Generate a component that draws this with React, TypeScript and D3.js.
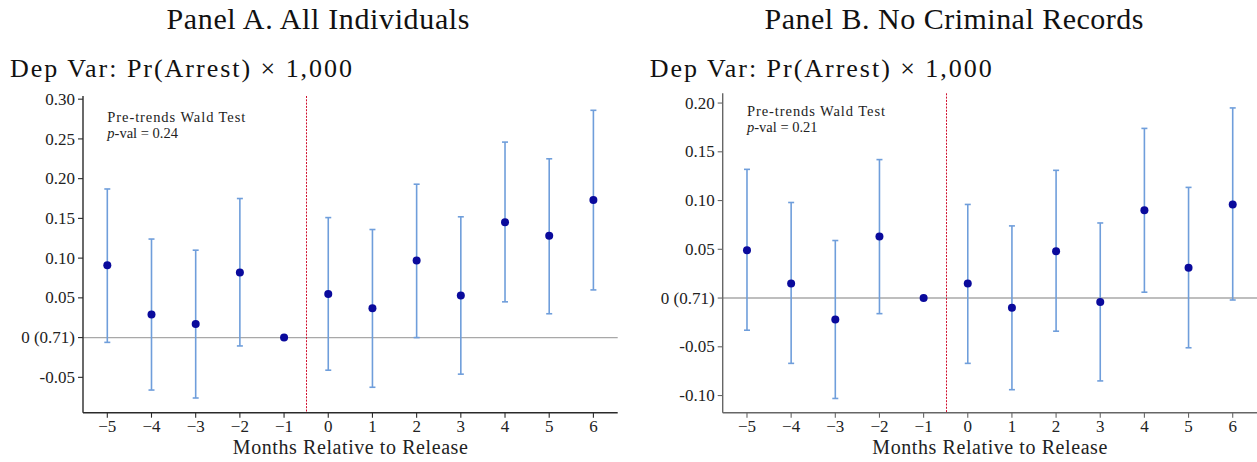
import React from "react";
import * as d3 from "d3";

// Event-study estimates, months relative to release (month -1 is the omitted base)
const months = [-5, -4, -3, -2, -1, 0, 1, 2, 3, 4, 5, 6];

// Panel A: all individuals
const allEst = [0.091, 0.029, 0.017, 0.082, 0, 0.055, 0.037, 0.097, 0.053, 0.145, 0.128, 0.173];
const allLo = [-0.006, -0.066, -0.076, -0.0105, null, -0.041, -0.0625, 0.0, -0.046, 0.045, 0.03, 0.06];
const allHi = [0.187, 0.124, 0.11, 0.175, null, 0.151, 0.136, 0.193, 0.152, 0.246, 0.225, 0.286];

// Panel B: no criminal records
const noRecEst = [0.049, 0.015, -0.022, 0.063, 0, 0.015, -0.01, 0.048, -0.004, 0.09, 0.031, 0.096];
const noRecLo = [-0.033, -0.067, -0.103, -0.016, null, -0.067, -0.094, -0.034, -0.085, 0.006, -0.051, -0.002];
const noRecHi = [0.132, 0.098, 0.059, 0.142, null, 0.096, 0.074, 0.131, 0.077, 0.174, 0.1135, 0.195];

const yTicksA = [-0.05, 0, 0.05, 0.1, 0.15, 0.2, 0.25, 0.3];
const yTicksB = [-0.1, -0.05, 0, 0.05, 0.1, 0.15, 0.2];
const baselineMean = "0.71";
const pValA = "0.24";
const pValB = "0.21";

const FONT = "'Liberation Serif', 'Times New Roman', serif";
const BAR = "#6f9edb";
const DOT = "#0a0a9c";

type PanelProps = {
  title: string;
  titleX: number;
  titleLen: number;
  left: number;
  right: number;
  top: number;
  bottom: number;
  yDomain: [number, number];
  yTicks: number[];
  est: number[];
  lo: (number | null)[];
  hi: (number | null)[];
  pval: string;
  noteY: number;
  spine: string;
};

const fmtY = (v: number) =>
  Math.abs(v) < 1e-9 ? `0 (${baselineMean})` : v < 0 ? `-${Math.abs(v).toFixed(2)}` : v.toFixed(2);
const fmtX = (v: number) => (v < 0 ? `\u2212${Math.abs(v)}` : `${v}`);

function Panel(p: PanelProps) {
  const x = d3.scaleLinear().domain([-5.55, 6.55]).range([p.left, p.right]);
  const y = d3.scaleLinear().domain(p.yDomain).range([p.bottom, p.top]);
  const axisMid = (p.left + p.right) / 2;
  const depX = p.left - 73;
  const relX = Math.round(x(-0.5)) + 0.5;
  return (
    <g>
      <text x={p.titleX} y={29} fontSize={30} textAnchor="middle" textLength={p.titleLen} lengthAdjust="spacing" fill="#111">
        {p.title}
      </text>
      <text x={depX} y={77} fontSize={26} textLength={342} lengthAdjust="spacing" fill="#111">
        Dep Var: Pr(Arrest) × 1,000
      </text>

      {/* zero reference line */}
      <line x1={p.left} x2={p.right} y1={y(0)} y2={y(0)} stroke="#a8a8a8" strokeWidth={1.4} />
      {/* release marker between month -1 and month 0 */}
      <line x1={relX} x2={relX} y1={p.top} y2={p.bottom} stroke="#d0102e" strokeWidth={1} strokeDasharray="2,1.3" />

      {/* confidence intervals */}
      {months.map((m, i) =>
        p.lo[i] == null || p.hi[i] == null ? null : (
          <g key={`e${m}`}>
            <line x1={x(m)} x2={x(m)} y1={y(p.lo[i] as number)} y2={y(p.hi[i] as number)} stroke={BAR} strokeWidth={1.6} />
            <line x1={x(m) - 3} x2={x(m) + 3} y1={y(p.hi[i] as number)} y2={y(p.hi[i] as number)} stroke={BAR} strokeWidth={1.6} />
            <line x1={x(m) - 3} x2={x(m) + 3} y1={y(p.lo[i] as number)} y2={y(p.lo[i] as number)} stroke={BAR} strokeWidth={1.6} />
          </g>
        )
      )}
      {months.map((m, i) => (
        <circle key={`p${m}`} cx={x(m)} cy={y(p.est[i])} r={4} fill={DOT} />
      ))}

      {/* spines */}
      <line x1={p.left} x2={p.left} y1={p.top} y2={p.bottom} stroke={p.spine} strokeWidth={1.4} />
      <line x1={p.left} x2={p.right} y1={p.bottom} y2={p.bottom} stroke={p.spine} strokeWidth={1.4} />

      {p.yTicks.map((t) => (
        <g key={`yt${t}`}>
          <line x1={p.left - 5} x2={p.left} y1={y(t)} y2={y(t)} stroke={p.spine} strokeWidth={1.1} />
          <text x={p.left - 8} y={y(t)} dy="0.33em" fontSize={17} textAnchor="end" fill="#222">
            {fmtY(t)}
          </text>
        </g>
      ))}
      {months.map((m) => (
        <g key={`xt${m}`}>
          <line x1={x(m)} x2={x(m)} y1={p.bottom} y2={p.bottom + 5} stroke={p.spine} strokeWidth={1.1} />
          <text x={x(m)} y={432} fontSize={17} textAnchor="middle" fill="#222">
            {fmtX(m)}
          </text>
        </g>
      ))}
      <text x={axisMid} y={454} fontSize={20} textAnchor="middle" textLength={235} lengthAdjust="spacing" fill="#222">
        Months Relative to Release
      </text>

      <text x={x(-5)} y={y(p.noteY)} fontSize={14.5} textLength={138} lengthAdjust="spacing" fill="#222">
        Pre-trends Wald Test
      </text>
      <text x={x(-5)} y={y(p.noteY) + 16} fontSize={14.5} fill="#222">
        <tspan fontStyle="italic">p</tspan>-val = {p.pval}
      </text>
    </g>
  );
}

export default function App() {
  return (
    <svg
      width={1257}
      height={462}
      style={{ position: "absolute", left: 0, top: 0, background: "#fff", fontFamily: FONT }}
    >
      <rect x={0} y={0} width={1257} height={462} fill="#fff" />
      <Panel
        title="Panel A. All Individuals"
        titleX={318}
        titleLen={303}
        left={83}
        right={617.7}
        top={96}
        bottom={412.7}
        yDomain={[-0.0945, 0.304]}
        yTicks={yTicksA}
        est={allEst}
        lo={allLo}
        hi={allHi}
        pval={pValA}
        noteY={0.271}
        spine="#2a2a2a"
      />
      <Panel
        title="Panel B. No Criminal Records"
        titleX={954}
        titleLen={379}
        left={722.7}
        right={1257}
        top={93.3}
        bottom={412.7}
        yDomain={[-0.1176, 0.21]}
        yTicks={yTicksB}
        est={noRecEst}
        lo={noRecLo}
        hi={noRecHi}
        pval={pValB}
        noteY={0.187}
        spine="#666"
      />
    </svg>
  );
}
